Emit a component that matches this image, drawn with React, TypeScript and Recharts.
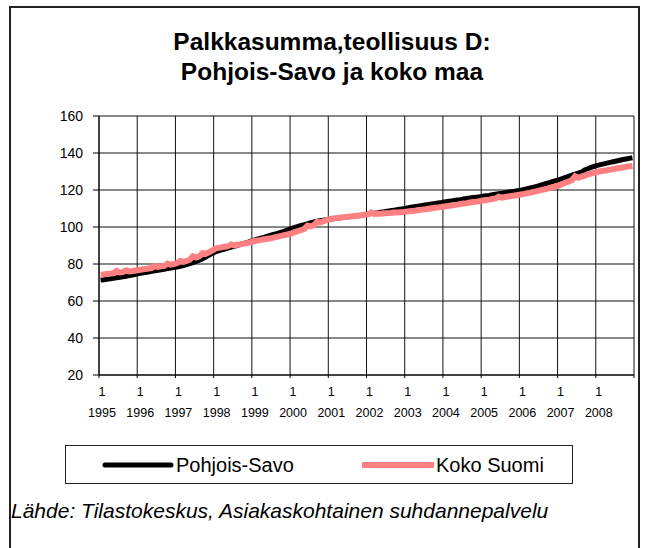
import React from 'react';
import { LineChart, Line, XAxis, YAxis, CartesianGrid } from 'recharts';

const years = [1995, 1996, 1997, 1998, 1999, 2000, 2001, 2002, 2003, 2004, 2005, 2006, 2007, 2008];
const yTicks = [20, 40, 60, 80, 100, 120, 140, 160];
const monthLabel = '1';
const seriesNames = ['Pohjois-Savo', 'Koko Suomi'];
const seriesColors = ['#000000', '#FF8080'];

// Monthly index values, Jan 1995 .. Dec 2008
const pohjoisSavo = [
  71.3, 71.5, 71.8, 72.0, 72.3, 72.6, 72.8, 73.1, 73.4, 73.7, 74.0, 74.4,
  74.8, 75.1, 75.4, 75.7, 76.0, 76.3, 76.6, 76.9, 77.2, 77.5, 77.8, 78.1,
  78.4, 78.8, 79.2, 79.7, 80.2, 80.8, 81.4, 82.1, 82.9, 83.8, 84.7, 85.6,
  86.5, 87.1, 87.6, 88.1, 88.6, 89.1, 89.6, 90.1, 90.6, 91.1, 91.6, 92.2,
  92.8, 93.3, 93.8, 94.3, 94.8, 95.3, 95.8, 96.3, 96.8, 97.3, 97.9, 98.6,
  99.3, 99.8, 100.3, 100.8, 101.3, 101.8, 102.3, 102.7, 103.1, 103.4, 103.7, 104.0,
  104.2, 104.5, 104.7, 104.9, 105.1, 105.3, 105.5, 105.7, 105.9, 106.1, 106.3, 106.6,
  107.0, 107.3, 107.5, 107.7, 108.0, 108.2, 108.5, 108.8, 109.0, 109.3, 109.6, 109.9,
  110.2, 110.5, 110.8, 111.1, 111.3, 111.6, 111.9, 112.2, 112.5, 112.7, 113.0, 113.2,
  113.5, 113.8, 114.0, 114.3, 114.6, 114.8, 115.1, 115.4, 115.7, 115.9, 116.1, 116.3,
  116.6, 116.9, 117.1, 117.4, 117.7, 118.0, 118.3, 118.5, 118.8, 119.1, 119.3, 119.6,
  119.9, 120.3, 120.7, 121.1, 121.5, 122.0, 122.5, 123.0, 123.5, 124.0, 124.6, 125.1,
  125.6, 126.2, 126.8, 127.4, 128.0, 128.6, 129.1, 129.6, 130.8, 131.5, 132.2, 132.8,
  133.3, 133.7, 134.1, 134.5, 134.9, 135.3, 135.7, 136.1, 136.5, 136.8, 137.1, 137.4,
];

const kokoSuomi = [
  74.2, 74.4, 74.6, 74.8, 75.0, 76.2, 75.4, 75.6, 76.6, 76.0, 76.2, 76.5,
  76.8, 77.0, 77.3, 77.6, 77.8, 78.9, 78.4, 78.7, 79.0, 80.2, 79.6, 79.9,
  80.5, 81.6, 81.2, 81.7, 82.3, 84.2, 83.5, 84.1, 85.8, 85.5, 86.3, 87.2,
  88.3, 88.7, 89.0, 89.3, 89.6, 90.6, 90.1, 90.4, 90.7, 91.0, 91.3, 91.7,
  92.3, 92.6, 92.9, 93.2, 93.5, 93.8, 94.1, 94.5, 94.9, 95.3, 95.7, 96.1,
  96.6, 97.2, 97.8, 98.4, 99.0, 100.8, 100.3, 101.0, 102.7, 102.5, 103.1, 103.7,
  104.3, 104.6, 104.8, 105.0, 105.2, 105.4, 105.6, 105.8, 106.0, 106.2, 106.4, 106.6,
  106.8, 107.9, 107.0, 107.1, 107.2, 107.4, 107.5, 107.6, 107.8, 107.9, 108.0, 108.1,
  108.3, 108.5, 108.7, 108.9, 109.2, 109.4, 109.6, 109.9, 110.1, 110.4, 110.6, 110.8,
  111.1, 111.3, 111.6, 111.9, 112.1, 112.4, 112.7, 112.9, 113.2, 113.5, 113.7, 114.0,
  114.3, 114.6, 114.8, 115.1, 115.4, 116.4, 115.9, 116.2, 116.5, 116.8, 117.0, 117.3,
  117.6, 117.9, 118.3, 118.6, 119.0, 119.4, 119.8, 120.2, 120.6, 121.0, 121.5, 121.9,
  122.5, 123.2, 123.9, 124.6, 125.3, 127.4, 126.6, 127.2, 127.8, 128.4, 128.9, 129.4,
  129.8, 130.1, 130.4, 130.7, 131.0, 131.3, 131.6, 131.9, 132.2, 132.5, 132.8, 133.0,
];

const data = pohjoisSavo.map((v, i) => ({ m: i + 0.5, savo: v, suomi: kokoSuomi[i] }));
const xTicks = years.map((_, i) => i * 12).concat([years.length * 12]);

const FONT = '"Liberation Sans", Arial, Helvetica, sans-serif';

const XTick = (props: any) => {
  const { x, y, payload } = props;
  const idx = Math.round(payload.value / 12);
  if (idx >= years.length) return null;
  return (
    <g>
      <text x={x + 3} y={y + 12} textAnchor="middle" dominantBaseline="central" fontSize={12.5} fontFamily={FONT} fill="#000">
        {monthLabel}
      </text>
      <text x={x + 3} y={y + 33} textAnchor="middle" dominantBaseline="central" fontSize={12.5} fontFamily={FONT} fill="#000">
        {years[idx]}
      </text>
    </g>
  );
};

const LegendBox = () => (
  <div style={{ position: 'absolute', left: 65, top: 445, width: 508, height: 39, border: '1px solid #222', boxSizing: 'border-box', background: '#fff' }}>
    {seriesNames.map((name, i) => {
      const isSavo = i === 0;
      const lineLeft = isSavo ? 36 : 296;
      return (
        <div key={name} style={{ position: 'absolute', left: lineLeft, top: 0, height: 37, display: 'flex', alignItems: 'center' }}>
          <svg width={72} height={10} style={{ display: 'block' }}>
            <line x1={isSavo ? 3 : 0} y1={5} x2={isSavo ? 69 : 72} y2={5} stroke={seriesColors[i]} strokeWidth={isSavo ? 5 : 6} strokeLinecap={isSavo ? 'round' : 'butt'} />
          </svg>
          <span style={{ fontFamily: FONT, fontSize: 20, color: '#000', marginLeft: 2, lineHeight: '20px' }}>{name}</span>
        </div>
      );
    })}
  </div>
);

export default function App() {
  return (
    <div style={{ position: 'absolute', left: 0, top: 0, width: 646, height: 548, overflow: 'hidden', background: '#fff' }}>
      <div style={{ position: 'absolute', left: 9, top: 6, width: 631, height: 600, border: '2px solid #222', boxSizing: 'border-box' }} />
      <div style={{ position: 'absolute', left: 18, top: 27, width: 628, textAlign: 'center', fontFamily: FONT, fontWeight: 'bold', fontSize: 24.5, lineHeight: '30px', color: '#000' }}>
        Palkkasumma,teollisuus D:
        <br />
        Pohjois-Savo ja koko maa
      </div>
      <div style={{ position: 'absolute', left: 0, top: 0 }}>
        <LineChart width={646} height={548} data={data} margin={{ top: 116, right: 12, bottom: 128, left: 39 }}>
          <CartesianGrid stroke="#111" strokeWidth={1} />
          <XAxis
            dataKey="m"
            type="number"
            domain={[0, 168]}
            ticks={xTicks}
            interval={0}
            height={45}
            tickSize={3}
            tickMargin={2}
            axisLine={{ stroke: '#000' }}
            tickLine={{ stroke: '#000' }}
            tick={<XTick />}
          />
          <YAxis
            type="number"
            domain={[20, 160]}
            ticks={yTicks}
            interval={0}
            width={60}
            tickSize={6}
            tickMargin={10}
            axisLine={{ stroke: '#000' }}
            tickLine={{ stroke: '#000' }}
            tick={{ fill: '#000', fontSize: 14, fontFamily: FONT }}
          />
          <Line name={seriesNames[0]} dataKey="savo" stroke={seriesColors[0]} strokeWidth={5} dot={false} isAnimationActive={false} type="linear" />
          <Line name={seriesNames[1]} dataKey="suomi" stroke={seriesColors[1]} strokeWidth={6} dot={false} isAnimationActive={false} type="linear" />
        </LineChart>
      </div>
      <LegendBox />
      <div style={{ position: 'absolute', left: 11, top: 499, fontFamily: FONT, fontStyle: 'italic', fontSize: 21, lineHeight: '24px', color: '#000', whiteSpace: 'nowrap' }}>
        Lähde: Tilastokeskus, Asiakaskohtainen suhdannepalvelu
      </div>
    </div>
  );
}
